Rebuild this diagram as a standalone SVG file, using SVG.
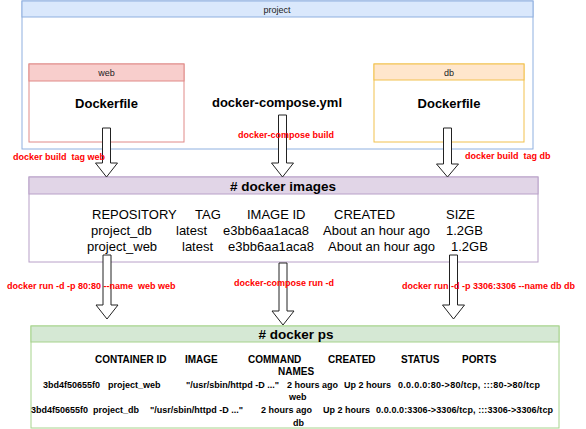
<svg xmlns="http://www.w3.org/2000/svg" width="586" height="429" viewBox="0 0 586 429">
<style>
text{font-family:"Liberation Sans",Arial,sans-serif;fill:#000}
.hdr{font-size:9px;fill:#222}
.big{font-size:13px;font-weight:bold}
.ttl{font-size:13.5px;font-weight:bold}
.tbl{font-size:13px}
.psh{font-size:10px;font-weight:bold}
.psd{font-size:9px;font-weight:bold}
.lbl{font-size:9px;font-weight:bold;fill:#ff0000}
.arrow{fill:#fff;stroke:#222;stroke-width:1}
</style>
<rect width="586" height="429" fill="#fff"/>
<g id="project">
<rect x="22" y="1" width="511" height="148" fill="#fff" stroke="#8fb0e0"/>
<rect x="22" y="1" width="511" height="16" fill="#dae8fc" stroke="#8fb0e0"/>
<text class="hdr" x="277" y="12.5" text-anchor="middle">project</text>
<text class="big" x="277" y="107" text-anchor="middle">docker-compose.yml</text>
</g>
<g id="web">
<rect x="29" y="64" width="155" height="78" fill="#fff" stroke="#e08a88"/>
<rect x="29" y="64" width="155" height="17" fill="#f8cecc" stroke="#e08a88"/>
<text class="hdr" x="106.5" y="76" text-anchor="middle">web</text>
<text class="big" x="106.5" y="108" text-anchor="middle">Dockerfile</text>
</g>
<g id="db">
<rect x="374" y="64" width="150" height="78" fill="#fff" stroke="#f2c14e"/>
<rect x="374" y="64" width="150" height="16" fill="#ffe6cc" stroke="#f2c14e"/>
<text class="hdr" x="449" y="76" text-anchor="middle">db</text>
<text class="big" x="449" y="108" text-anchor="middle">Dockerfile</text>
</g>
<g id="images">
<rect x="29" y="177" width="509" height="85" fill="#fff" stroke="#b8a0c8"/>
<rect x="29" y="177" width="509" height="17" fill="#e1d5e7" stroke="#b8a0c8"/>
<text class="ttl" x="283" y="191" text-anchor="middle"># docker images</text>
<text class="tbl" y="219"><tspan x="92">REPOSITORY</tspan><tspan x="195">TAG</tspan><tspan x="247">IMAGE ID</tspan><tspan x="334">CREATED</tspan><tspan x="446">SIZE</tspan></text>
<text class="tbl" y="235"><tspan x="91">project_db</tspan><tspan x="176">latest</tspan><tspan x="223">e3bb6aa1aca8</tspan><tspan x="323">About an hour ago</tspan><tspan x="446">1.2GB</tspan></text>
<text class="tbl" y="251"><tspan x="87">project_web</tspan><tspan x="182">latest</tspan><tspan x="228">e3bb6aa1aca8</tspan><tspan x="328">About an hour ago</tspan><tspan x="451">1.2GB</tspan></text>
</g>
<g id="ps">
<rect x="31" y="326" width="528" height="102" fill="#fff" stroke="#a6d38c"/>
<rect x="31" y="326" width="528" height="16" fill="#d5e8d4" stroke="#a6d38c"/>
<text class="ttl" x="296" y="339" text-anchor="middle"># docker ps</text>
<text class="psh" y="363"><tspan x="95">CONTAINER ID</tspan><tspan x="185">IMAGE</tspan><tspan x="248">COMMAND</tspan><tspan x="328">CREATED</tspan><tspan x="401">STATUS</tspan><tspan x="462">PORTS</tspan></text>
<text class="psh" x="278" y="375">NAMES</text>
<text class="psd" y="387.5"><tspan x="43">3bd4f50655f0</tspan><tspan x="108">project_web</tspan><tspan x="186">"/usr/sbin/httpd -D ..."</tspan><tspan x="287">2 hours ago</tspan><tspan x="344">Up 2 hours</tspan><tspan x="398" textLength="142">0.0.0.0:80-&gt;80/tcp, :::80-&gt;80/tcp</tspan></text>
<text class="psd" x="289" y="400">web</text>
<text class="psd" y="412.5"><tspan x="31">3bd4f50655f0</tspan><tspan x="93">project_db</tspan><tspan x="150">"/usr/sbin/httpd -D ..."</tspan><tspan x="261">2 hours ago</tspan><tspan x="323">Up 2 hours</tspan><tspan x="376" textLength="177">0.0.0.0:3306-&gt;3306/tcp, :::3306-&gt;3306/tcp</tspan></text>
<text class="psd" x="293" y="425.5">db</text>
</g>
<g id="connectors">
<path class="arrow" d="M102.5,128 H110.5 V163 H117.5 L106.5,177 L95.5,163 H102.5 Z"/>
<path class="arrow" d="M278.5,115 H286.5 V163 H293.5 L282.5,177 L271.5,163 H278.5 Z"/>
<path class="arrow" d="M443.5,128 H451.5 V164 H458.5 L447.5,177 L436.5,164 H443.5 Z"/>
<path class="arrow" d="M103,255 H111 V305 H118 L107,319 L96,305 H103 Z"/>
<path class="arrow" d="M279,263 H287 V311 H294 L283,325 L272,311 H279 Z"/>
<path class="arrow" d="M449.5,255 H457.5 V305 H464.5 L453.5,319 L442.5,305 H449.5 Z"/>
<text class="lbl" x="13" y="160" xml:space="preserve">docker build  tag web</text>
<text class="lbl" x="238" y="138">docker-compose build</text>
<text class="lbl" x="465" y="159" xml:space="preserve">docker build  tag db</text>
<text class="lbl" x="7" y="289" xml:space="preserve">docker run -d -p 80:80 --name  web web</text>
<text class="lbl" x="234" y="286">docker-compose run -d</text>
<text class="lbl" x="402" y="289">docker run -d -p 3306:3306 --name db db</text>
</g>
</svg>
